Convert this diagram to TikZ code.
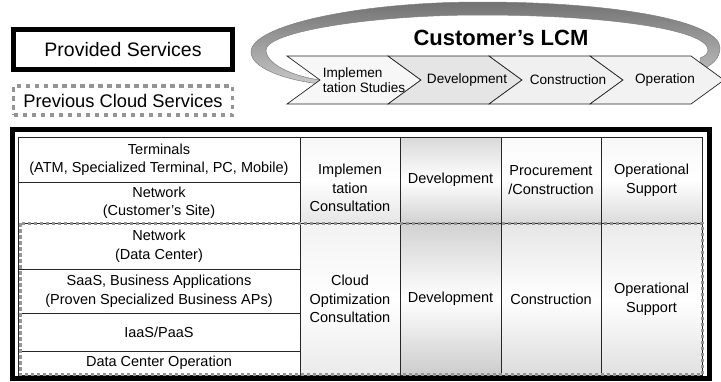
\documentclass[tikz,border=0pt]{standalone}
\usepackage{fontspec}
\setmainfont{Liberation Sans}
\usetikzlibrary{calc}
\usetikzlibrary{shapes.misc}

\newcommand\tablefont{\fontsize{14.5}{18.5}\selectfont}
\newcommand\chevfont{\fontsize{13.6}{15.6}\selectfont}
\newcommand\legendfont{\fontsize{18.3}{22}\selectfont}
\newcommand\titlefont{\fontsize{22}{26}\selectfont\bfseries}

\tikzset{
  cell/.style={draw=black!85,line width=0.9pt,align=center,inner sep=0pt,font=\tablefont},
  tone/.style 2 args={top color=black!#1,bottom color=black!#2,middle color=white},
  chev/.style={draw=black!85,line width=0.7pt},
  dashgray/.style={draw=black!42,dash pattern=on 3.5pt off 2.5pt,line width=3pt}
}

\begin{document}
\begin{tikzpicture}[x=1pt,y=-1pt]
\useasboundingbox (0,0) rectangle (721,381);
\shade[top color=black!55,bottom color=black!22,draw=black!50,line width=0.5pt]
 (320,84) .. controls (285,80) and (251,68) .. (251,52)
 .. controls (251,25) and (360,2) .. (480,2)
 .. controls (620,2) and (720,22) .. (720,48)
 .. controls (720,58) and (712,66) .. (700,70)
 -- (700,58) .. controls (706,56) and (708,53) .. (708,50)
 .. controls (708,30) and (610,15) .. (480,15)
 .. controls (370,15) and (266,32) .. (266,50)
 .. controls (266,64) and (292,76) .. (320,80) -- cycle;
\foreach \x/\c in {287/3, 388/10, 489/6, 590/5}{\filldraw[chev,fill=black!\c] (\x,56) -- ++(101,0) -- ++(33,24) -- ++(-33,24) -- ++(-101,0) -- ++(33,-24) -- cycle;};
\node[font=\chevfont,align=left] (studies) at (364,80) {Implemen\\tation Studies};
\foreach \n/\x/\t in {develop/467/Development, construct/568/Construction, operate/665/Operation}{\node[font=\chevfont] (\n) at (\x,80) {\t};};
\node[font=\titlefont] (lcm) at (501,38) {Customer’s LCM};

\node[draw,line width=5pt,minimum width=219pt,minimum height=40pt,font=\legendfont\fontsize{19.5}{23}\selectfont] (provided) at (123,49.5) {Provided Services};
\node[dashgray,line width=3.5pt,dash pattern=on 4.5pt off 4.5pt,minimum width=219pt,minimum height=29pt,font=\legendfont] (previous) at (123,100.5) {Previous Cloud Services};

\draw[line width=5pt] (12.5,129.5) rectangle (709,378.5);
\foreach \n/\y/\h/\t in {term/159.5/45/{Terminals\\(ATM, Specialized Terminal, PC, Mobile)}, netsite/202.5/41/{Network\\(Customer’s Site)}, netdc/246/46/{Network\\(Data Center)}, saas/291/44/{SaaS, Business Applications\\(Proven Specialized Business APs)}, iaas/332/38/{IaaS/PaaS}, dcop/363/24/{Data Center Operation}}{\node[cell,minimum width=282pt,minimum height=\h pt] (\n) at (159,\y) {\t};};
\node[cell,tone={3}{10},minimum width=100pt,minimum height=86pt,label={[align=center,font=\tablefont,yshift=-8pt]center:{Implemen\\tation\\Consultation}}] (consult) at (350,180) {};
\foreach \n/\x/\w/\a/\b/\t in {devup/450.5/101/15/18/Development, procure/551/100/2/15/{Procurement\\/Construction}, supportup/651.5/101/3/14/{Operational\\Support}}{\node[cell,tone={\a}{\b},minimum width=\w pt,minimum height=86pt] (\n) at (\x,180) {\t};};
\foreach \n/\x/\w/\a/\b/\t in {cloud/350/100/5/8/{Cloud\\Optimization\\Consultation}, devlow/450.5/101/18/20/Development, build/551/100/10/14/Construction, supportlow/651.5/101/8/12/{Operational\\Support}}{\node[cell,tone={\a}{\b},minimum width=\w pt,minimum height=152pt] (\n) at (\x,299) {\t};};
\draw[dashgray] (20,223) rectangle (702,374.5);
\end{tikzpicture}
\end{document}
